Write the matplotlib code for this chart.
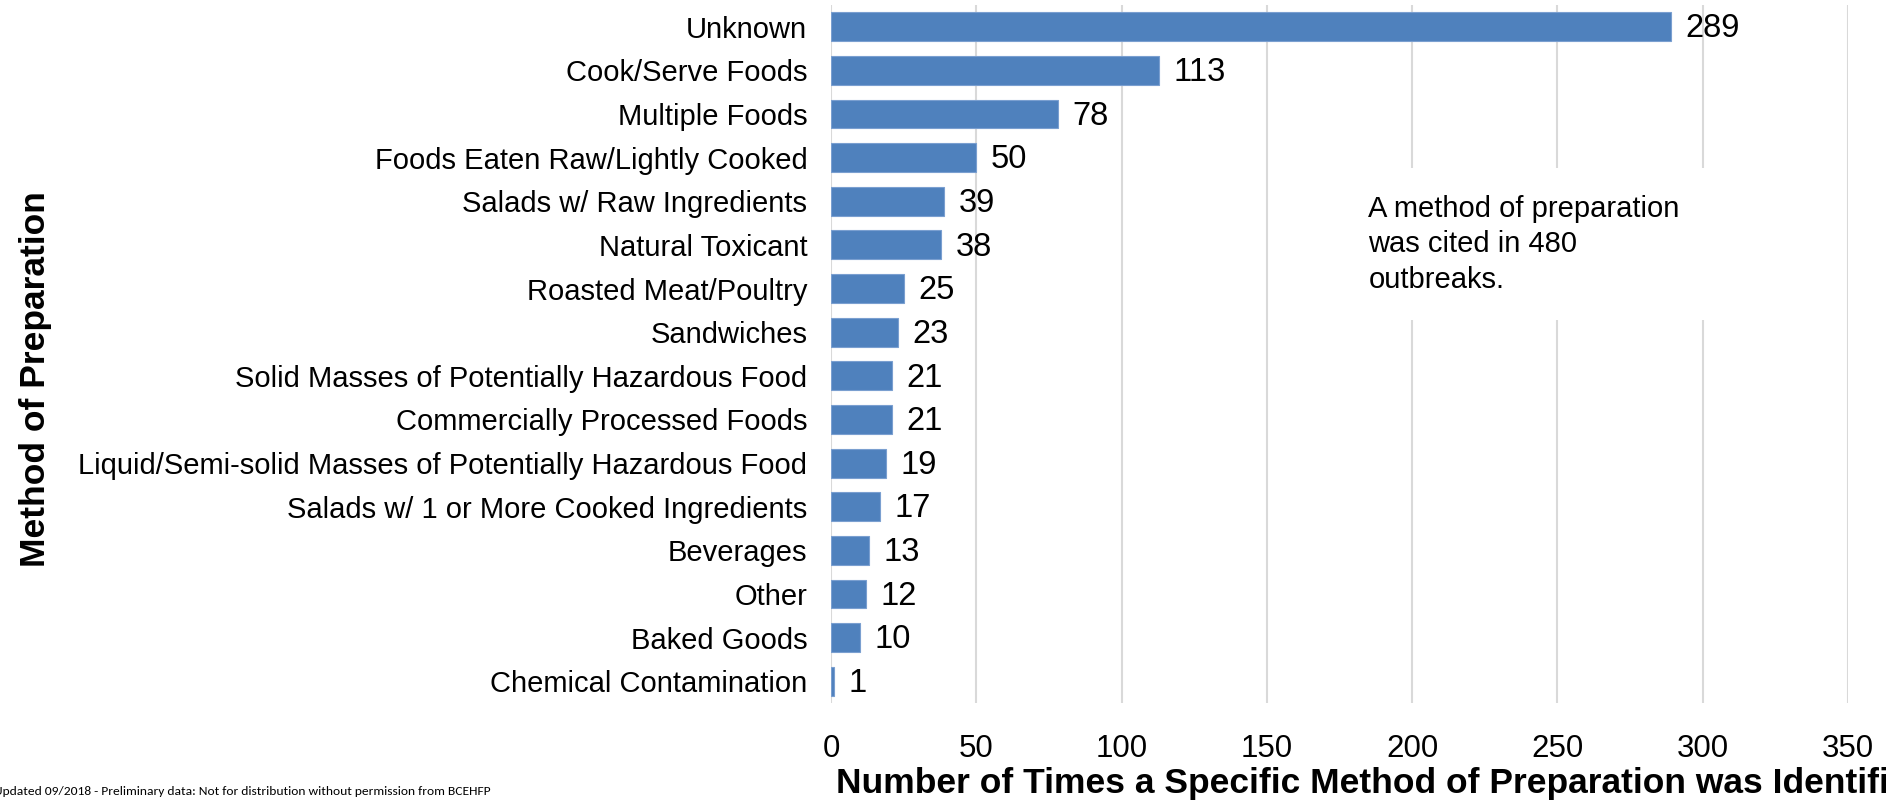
import matplotlib
matplotlib.use("Agg")
import matplotlib.pyplot as plt
from matplotlib import font_manager

# Données
methodes = ["Unknown", "Cook/Serve Foods", "Multiple Foods",
            "Foods Eaten Raw/Lightly Cooked", "Salads w/ Raw Ingredients",
            "Natural Toxicant", "Roasted Meat/Poultry", "Sandwiches",
            "Solid Masses of Potentially Hazardous Food",
            "Commercially Processed Foods",
            "Liquid/Semi-solid Masses of Potentially Hazardous Food",
            "Salads w/ 1 or More Cooked Ingredients", "Beverages", "Other",
            "Baked Goods", "Chemical Contamination"]
nombres = [289, 113, 78, 50, 39, 38, 25, 23, 21, 21, 19, 17, 13, 12, 10, 1]
graduations = [0, 50, 100, 150, 200, 250, 300, 350]

noms = {f.name for f in font_manager.fontManager.ttflist}
etroit = "Liberation Sans Narrow" if "Liberation Sans Narrow" in noms else "Liberation Sans"
plt.rcParams["font.family"] = ["Liberation Sans", "DejaVu Sans"]

fig = plt.figure(figsize=(18.86, 8), dpi=100)
ax = fig.add_axes([0.4406, 0.121, 0.5392, 0.873])

pos = list(range(len(methodes)))
ax.barh(pos, nombres, height=0.66, color="#4F81BD", edgecolor="#7A9FD0",
        linewidth=0.8, zorder=3)
for p, n in zip(pos, nombres):
    ax.text(n + 5, p + 0.05, str(n), va="center", ha="left", fontsize=23.5, zorder=4)

ax.set_xlim(0, 350)
ax.set_ylim(len(methodes) - 0.5, -0.5)
ax.set_xticks(graduations)
ax.set_xticklabels([str(g) for g in graduations], family=[etroit, "DejaVu Sans"],
                   fontsize=22.5)
ax.set_yticks(pos)
ax.set_yticklabels(methodes, fontsize=21)
ax.tick_params(length=0, pad=17)
ax.tick_params(axis="x", pad=22)
ax.grid(axis="x", color="#D9D9D9", linewidth=1.5, zorder=0)
for s in ax.spines.values():
    s.set_visible(False)

ax.set_xlabel("Number of Times a Specific Method of Preparation was Identified",
              fontsize=25.5, fontweight="bold", family=[etroit, "DejaVu Sans"],
              ha="left", x=0.005, labelpad=2)
fig.text(0.019, 0.526, "Method of Preparation", rotation=90, fontsize=25.5,
         fontweight="bold", ha="center", va="center")

ax.text(185, 3.85, "A method of preparation\nwas cited in 480\noutbreaks.",
        fontsize=21, va="top", ha="left", linespacing=1.35, zorder=5,
        bbox=dict(facecolor="white", edgecolor="none", pad=19))

fig.text(-0.003, 0.004,
         "Updated 09/2018 - Preliminary data: Not for distribution without permission from BCEHFP",
         fontsize=9.7, ha="left", va="bottom", family=["Carlito", "Liberation Sans", "DejaVu Sans"])

fig.savefig("out.png", dpi=100)
